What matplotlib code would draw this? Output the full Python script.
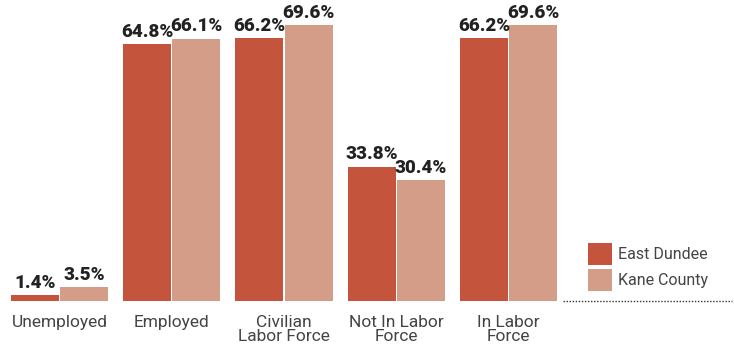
import matplotlib
matplotlib.use("Agg")
import matplotlib.pyplot as plt
from matplotlib.patches import Patch
from matplotlib.lines import Line2D
import numpy as np

categories = ["Unemployed", "Employed", "Civilian\nLabor Force", "Not In Labor\nForce", "In Labor\nForce"]
east_dundee = [1.4, 64.8, 66.2, 33.8, 66.2]
kane_county = [3.5, 66.1, 69.6, 30.4, 69.6]
series_names = ["East Dundee", "Kane County"]

c_east = "#C4543C"
c_kane = "#D49D88"
text_dark = "#222222"
text_gray = "#444444"

W, H = 734, 347
fig = plt.figure(figsize=(W / 100, H / 100), dpi=100)

# axes geometry in pixels
px_per_unit = 112.25
x0_px = 59.5
ax_left, ax_right = 0, 560
base_px = 301
ymax = 72
px_per_pct = 276 / 69.6
ax_h = ymax * px_per_pct

ax = fig.add_axes([ax_left / W, (H - base_px) / H, (ax_right - ax_left) / W, ax_h / H])
ax.set_xlim((ax_left - x0_px) / px_per_unit, (ax_right - x0_px) / px_per_unit)
ax.set_ylim(0, ymax)

x = np.arange(len(categories))
bw = 48 / px_per_unit
off = 24.5 / px_per_unit

b1 = ax.bar(x - off, east_dundee, width=bw, color=c_east, linewidth=0)
b2 = ax.bar(x + off, kane_county, width=bw, color=c_kane, linewidth=0)

for bars, vals in ((b1, east_dundee), (b2, kane_county)):
    for rect, v in zip(bars, vals):
        ax.annotate(f"{v:.1f}%", (rect.get_x() + rect.get_width() / 2, v),
                    xytext=(0, 2.5), textcoords="offset points",
                    ha="center", va="bottom", fontsize=13.5, fontweight="black",
                    family=["Roboto", "DejaVu Sans"], color=text_dark)

ax.set_xticks(x)
ax.set_xticklabels(categories, fontsize=12.5, family=["Roboto", "DejaVu Sans"],
                   color=text_gray, linespacing=0.9, va="top")
ax.tick_params(axis="x", length=0, pad=10)
ax.set_yticks([])
for s in ax.spines.values():
    s.set_visible(False)

handles = [Patch(facecolor=c_east, edgecolor="none"), Patch(facecolor=c_kane, edgecolor="none")]
fig.legend(handles, series_names, loc="upper left",
           bbox_to_anchor=(575 / W, 1 - 230 / H), frameon=False,
           prop={"family": ["Roboto", "DejaVu Sans"], "size": 11.5},
           labelcolor=text_gray, handlelength=1.5, handleheight=1.75,
           labelspacing=0.25, handletextpad=0.4, borderpad=0.3)

fig.add_artist(Line2D([563 / W, 732 / W], [1 - 301 / H, 1 - 301 / H],
                      transform=fig.transFigure, color="#333333",
                      linestyle=(0, (1, 1.2)), linewidth=1))

fig.savefig("out.png", dpi=100)
